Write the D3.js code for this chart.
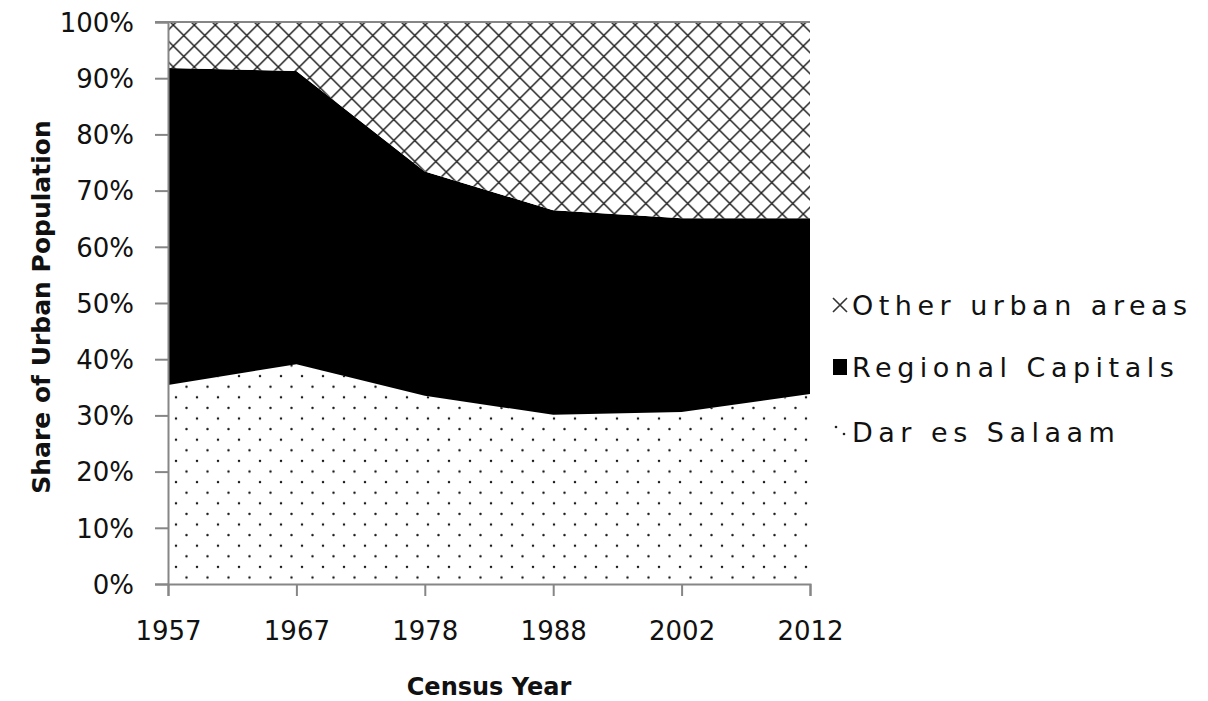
<!DOCTYPE html>
<html>
<head>
<meta charset="utf-8">
<script src="https://cdn.jsdelivr.net/npm/d3@7"></script>
<style>
  html, body { margin: 0; padding: 0; background: #fff; }
  svg { display: block; }
  text { font-family: "DejaVu Sans", Verdana, sans-serif; fill: #111; }
</style>
</head>
<body>
<svg id="chart" width="1208" height="701"></svg>
<script>
// Census years (x categories)
const years = ["1957", "1967", "1978", "1988", "2002", "2012"];
// Share of urban population, percent
const darEsSalaam    = [35.4, 39.1, 33.5, 30.1, 30.6, 33.8];
const regionalCaps   = [56.4, 52.2, 39.9, 36.4, 34.5, 31.3];
const otherUrban     = [8.2, 8.7, 26.6, 33.5, 34.9, 34.9];
const seriesNames    = ["Dar es Salaam", "Regional Capitals", "Other urban areas"];
const yTicks         = [0, 10, 20, 30, 40, 50, 60, 70, 80, 90, 100];

const svg = d3.select("#chart");
const plotLeft = 168, plotRight = 810, plotTop = 22, plotBottom = 584;

const x = d3.scalePoint().domain(years).range([plotLeft, plotRight]);
const y = d3.scaleLinear().domain([0, 100]).range([plotBottom, plotTop]);

// Fill patterns
const defs = svg.append("defs");
const dots = defs.append("pattern")
  .attr("id", "dots").attr("patternUnits", "userSpaceOnUse")
  .attr("x", 8).attr("y", 15.7).attr("width", 21).attr("height", 21.2);
dots.append("rect").attr("width", 21).attr("height", 21.2).attr("fill", "#fff");
[[0, 0], [21, 0], [0, 21.2], [21, 21.2], [10.5, 10.6]].forEach(([cx, cy]) => {
  dots.append("circle").attr("cx", cx).attr("cy", cy).attr("r", 1.25).attr("fill", "#1a1a1a");
});

const hatch = defs.append("pattern")
  .attr("id", "hatch").attr("patternUnits", "userSpaceOnUse")
  .attr("x", 5.3).attr("y", 4).attr("width", 21).attr("height", 21);
hatch.append("rect").attr("width", 21).attr("height", 21).attr("fill", "#fff");
hatch.append("path").attr("d", "M0,0L21,21M21,0L0,21M-1,20L1,22M20,-1L22,1M-1,1L1,-1M20,22L22,20")
  .attr("stroke", "#222").attr("stroke-width", 1.5).attr("fill", "none");

const fills = ["url(#dots)", "#000", "url(#hatch)"];

// Stack the three series (100% stacked)
const rows = years.map((yr, i) => ({
  year: yr,
  "Dar es Salaam": darEsSalaam[i],
  "Regional Capitals": regionalCaps[i],
  "Other urban areas": otherUrban[i]
}));
const stacked = d3.stack().keys(seriesNames)(rows);

const area = d3.area()
  .x(d => x(d.data.year))
  .y0(d => y(d[0]))
  .y1(d => y(d[1]));

svg.append("g").selectAll("path")
  .data(stacked)
  .join("path")
  .attr("d", area)
  .attr("fill", (d, i) => fills[i]);

// Axes
const axisColor = "#868686";
const yAxis = svg.append("g")
  .attr("transform", `translate(${plotLeft},0)`)
  .call(d3.axisLeft(y).tickValues(yTicks).tickFormat(d => d + "%").tickSize(13).tickPadding(21));
yAxis.select(".domain").attr("stroke", axisColor).attr("stroke-width", 2);
yAxis.selectAll(".tick line").attr("stroke", axisColor).attr("stroke-width", 2);
yAxis.selectAll(".tick text")
  .attr("font-size", 26).attr("font-family", "DejaVu Sans, Verdana, sans-serif")
  .attr("fill", "#111").attr("dy", "0.36em");

// top border line of the plot
svg.append("line")
  .attr("x1", plotLeft - 13).attr("x2", plotRight)
  .attr("y1", y(100)).attr("y2", y(100))
  .attr("stroke", axisColor).attr("stroke-width", 2);

const xAxis = svg.append("g")
  .attr("transform", `translate(0,${plotBottom})`)
  .call(d3.axisBottom(x).tickSize(12).tickPadding(26));
xAxis.select(".domain").attr("stroke", axisColor).attr("stroke-width", 2);
xAxis.selectAll(".tick line").attr("stroke", axisColor).attr("stroke-width", 2);
xAxis.selectAll(".tick text")
  .attr("font-size", 26).attr("font-family", "DejaVu Sans, Verdana, sans-serif")
  .attr("fill", "#111");

// Axis titles
svg.append("text")
  .attr("x", (plotLeft + plotRight) / 2).attr("y", 695)
  .attr("text-anchor", "middle")
  .attr("font-size", 24).attr("font-weight", "bold")
  .text("Census Year");

svg.append("text")
  .attr("transform", `translate(50,${(plotTop + plotBottom) / 2 + 4}) rotate(-90)`)
  .attr("text-anchor", "middle")
  .attr("font-size", 25).attr("font-weight", "bold")
  .text("Share of Urban Population");

// Legend (top to bottom: other, regional, dar)
const legendItems = [
  { name: "Other urban areas", cy: 305 },
  { name: "Regional Capitals", cy: 367 },
  { name: "Dar es Salaam", cy: 432 }
];
const lg = svg.append("g");
legendItems.forEach((it, i) => {
  const g = lg.append("g");
  if (i === 0) {
    g.append("path")
      .attr("d", `M833,${it.cy - 7}L847,${it.cy + 7}M847,${it.cy - 7}L833,${it.cy + 7}`)
      .attr("stroke", "#333").attr("stroke-width", 1.6);
  } else if (i === 1) {
    g.append("rect").attr("x", 833).attr("y", it.cy - 8).attr("width", 14).attr("height", 16).attr("fill", "#000");
  } else {
    g.append("circle").attr("cx", 836).attr("cy", it.cy - 5).attr("r", 1.3).attr("fill", "#222");
    g.append("circle").attr("cx", 844).attr("cy", it.cy + 2).attr("r", 1.3).attr("fill", "#222");
  }
  g.append("text")
    .attr("x", 852).attr("y", it.cy)
    .attr("dy", "0.36em")
    .attr("font-size", 27)
    .attr("letter-spacing", 5.5)
    .text(it.name);
});
</script>
</body>
</html>
